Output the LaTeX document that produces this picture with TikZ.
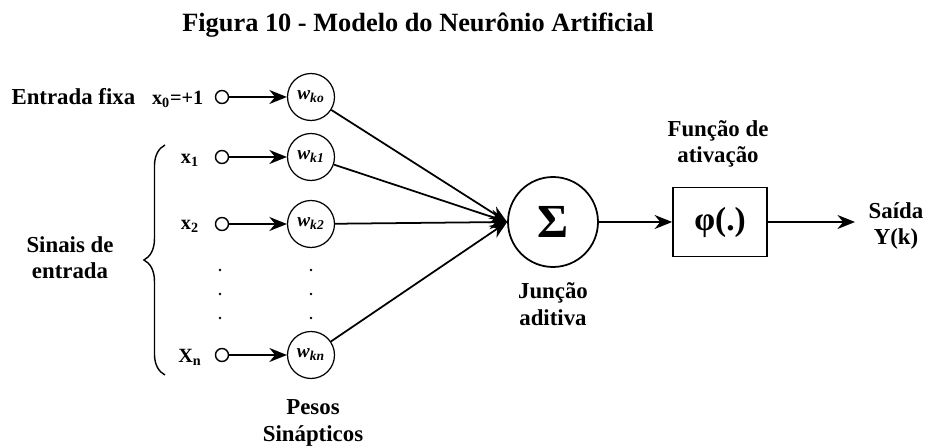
\documentclass[tikz,border=0pt]{standalone}
\usepackage{fontspec}
\setmainfont{Liberation Serif}
\usetikzlibrary{arrows.meta,decorations.pathreplacing}

\begin{document}
\begin{tikzpicture}[x=0.02cm,y=-0.02cm,line width=1pt,
    lbl/.style={font=\bfseries\fontsize{13}{15}\selectfont, align=center},
    sig/.style={font=\bfseries\fontsize{11.5}{13}\selectfont},
    port/.style={circle, draw, line width=0.8pt, inner sep=0pt, minimum size=0.26cm},
    weight/.style={circle, draw, line width=0.7pt, inner sep=0pt, minimum size=0.94cm, font=\bfseries\itshape\fontsize{11}{12}\selectfont},
    arr/.style={-{Stealth[length=10pt,width=8pt]}}]
    \useasboundingbox (0,0) rectangle (926,448);
    % Title
    \node[font=\bfseries\fontsize{15}{18}\selectfont] (title) at (418,25) {Figura 10 - Modelo do Neurônio Artificial};
    % Inputs and synaptic weights
    \foreach \i/\y/\w in {0/97/ko, 1/157/k1, 2/224/k2, n/355/kn} {
        \node[port] (in\i) at (222,\y) {};
        \node[weight] (w\i) at (311,\y) {w\textsubscript{\w}};
    }
    \node[sig, anchor=east] (x0) at (210,99) {x\textsubscript{0}=+1};
    \node[sig] (x1) at (190,160) {x\textsubscript{1}};
    \node[sig] (x2) at (190,226) {x\textsubscript{2}};
    \node[sig] (xn) at (190,357) {X\textsubscript{n}};
    \node[lbl, anchor=east] (fixa) at (142,97) {Entrada fixa};
    \node[lbl] (sinais) at (70,258) {Sinais de\\entrada};
    \draw[line width=0.8pt, decorate, decoration={brace, amplitude=12pt}] (165,375) -- (165,145);
    % Dots
    \foreach \x in {220,311}
        \foreach \y in {270,294,318}
            \fill (\x,\y) circle (1.4);
    \node[lbl] (pesos) at (313,423) {Pesos\\Sinápticos};
    % Summing junction
    \node[circle, draw, inner sep=0pt, minimum size=1.8cm, font=\bfseries\fontsize{27}{28}\selectfont] (sum) at (553,222) {Σ};
    \node[lbl] (juncao) at (553,304) {Junção\\aditiva};
    \foreach \i in {0,1,2,n} {
        \draw[arr] (in\i) -- (w\i);
        \draw[arr] (w\i) -- (sum.west);
    }
    % Activation function
    \node[draw, minimum width=1.88cm, minimum height=1.38cm, font=\bfseries\fontsize{19}{20}\selectfont] (phi) at (720,222) {φ(.)};
    \node[lbl] (funcao) at (718,144) {Função de\\ativação};
    \coordinate (out) at (855,222);
    \node[lbl] (saida) at (896,226) {Saída\\Y(k)};
    \draw[arr] (sum) -- (phi);
    \draw[arr] (phi) -- (out);
\end{tikzpicture}
\end{document}
